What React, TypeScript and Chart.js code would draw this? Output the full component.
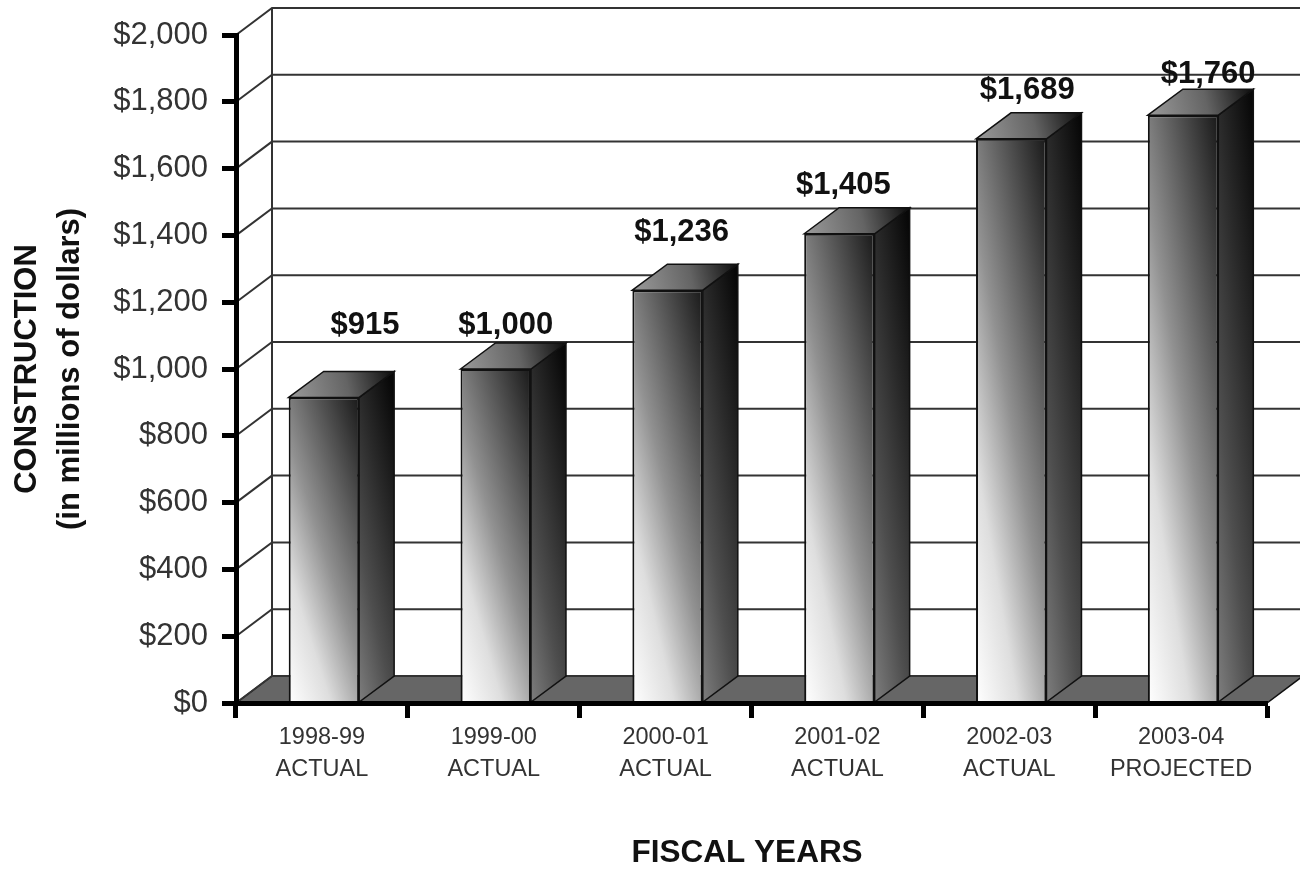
import React, { useEffect, useRef } from "react";
import { Chart, registerables } from "chart.js";

Chart.register(...registerables);

const fiscalYears = ["1998-99", "1999-00", "2000-01", "2001-02", "2002-03", "2003-04"];
const yearStatus = ["ACTUAL", "ACTUAL", "ACTUAL", "ACTUAL", "ACTUAL", "PROJECTED"];
const construction = [915, 1000, 1236, 1405, 1689, 1760];

// Oblique projection of the 3-D box: how far the back of the scene shifts on screen.
const WALL_DX = 36;
const WALL_DY = 27;
const BAR_DX = 35;
const BAR_DY = 26;
const BAR_SHIFT = 2;
// Hand placement of the value captions relative to each bar's top-centre.
const captionDx = [41, 10, 14, 4, 16, 25];
const captionDy = [-72, -44, -58, -48, -48, -41];

const FRONT_STOPS = [255, 222, 145, 85, 25];
const SIDE_STOPS = [125, 78, 42, 8];

const money = (v: number) => "$" + v.toLocaleString("en-US");

function grey(l: number) {
  const c = Math.round(l);
  return `rgb(${c},${c},${c})`;
}

// Diagonal shading across a box, running from its foot-left corner to its head-right corner.
// xShare is how much of the ramp is spent going across rather than going up.
function boxGradient(
  ctx: CanvasRenderingContext2D,
  x0: number,
  x1: number,
  top: number,
  base: number,
  xShare: number,
  stops: number[]
) {
  const w = x1 - x0;
  const h = base - top;
  if (![x0, w, h, base].every(Number.isFinite) || w <= 0 || h <= 0) return "#888";
  const gx = xShare / w;
  const gy = -(1 - xShare) / h;
  const len2 = gx * gx + gy * gy;
  const g = ctx.createLinearGradient(x0, base, x0 + gx / len2, base + gy / len2);
  stops.forEach((l, i) => g.addColorStop(i / (stops.length - 1), grey(l)));
  return g;
}

function linearFace(ctx: CanvasRenderingContext2D, pts: number[][], fill: CanvasGradient | string) {
  ctx.beginPath();
  pts.forEach((p, i) => (i ? ctx.lineTo(p[0], p[1]) : ctx.moveTo(p[0], p[1])));
  ctx.closePath();
  ctx.fillStyle = fill;
  ctx.fill();
  ctx.strokeStyle = "#111";
  ctx.lineWidth = 1.5;
  ctx.stroke();
}

const boxScene = {
  id: "boxScene",
  beforeDatasetsDraw(chart: any) {
    const { ctx, scales } = chart;
    const { x: xs, y: ys } = scales;
    const left = xs.left;
    const right = xs.right;
    const base = ys.getPixelForValue(0);
    ctx.save();

    // Floor of the box
    linearFace(
      ctx,
      [
        [left, base],
        [left + WALL_DX, base - WALL_DY],
        [right + WALL_DX, base - WALL_DY],
        [right, base],
      ],
      "#666"
    );

    // Back wall grid and the slanted side-wall lines
    ctx.strokeStyle = "#333";
    ctx.lineWidth = 2;
    ys.ticks.forEach((t: any) => {
      const y = ys.getPixelForValue(t.value);
      ctx.beginPath();
      ctx.moveTo(left, y);
      ctx.lineTo(left + WALL_DX, y - WALL_DY);
      ctx.lineTo(right + WALL_DX, y - WALL_DY);
      ctx.stroke();
    });
    ctx.beginPath();
    ctx.moveTo(left + WALL_DX, ys.top - WALL_DY);
    ctx.lineTo(left + WALL_DX, base - WALL_DY);
    ctx.stroke();

    // Side and top faces of each bar, behind its front face
    const meta = chart.getDatasetMeta(0);
    meta.data.forEach((bar: any) => {
      const x0 = bar.x - bar.width / 2 + BAR_SHIFT;
      const x1 = bar.x + bar.width / 2 + BAR_SHIFT;
      const top = bar.y;
      const foot = base - 1;

      linearFace(
        ctx,
        [
          [x1, top],
          [x1 + BAR_DX, top - BAR_DY],
          [x1 + BAR_DX, foot - BAR_DY],
          [x1, foot],
        ],
        boxGradient(ctx, x1, x1 + BAR_DX, top, foot, 0.35, SIDE_STOPS)
      );

      const cap = ctx.createLinearGradient(x0, top, x1 + BAR_DX, top - BAR_DY);
      cap.addColorStop(0, grey(155));
      cap.addColorStop(0.55, grey(100));
      cap.addColorStop(1, grey(12));
      linearFace(
        ctx,
        [
          [x0, top],
          [x0 + BAR_DX, top - BAR_DY],
          [x1 + BAR_DX, top - BAR_DY],
          [x1, top],
        ],
        cap
      );
    });

    // The front faces are nudged with the side faces; undone in afterDatasetsDraw
    ctx.restore();
    ctx.save();
    ctx.translate(BAR_SHIFT, 0);
  },
  afterDatasetsDraw(chart: any) {
    const { ctx } = chart;
    ctx.restore();
    ctx.save();
    ctx.font = "bold 31px 'Liberation Sans', Arial, sans-serif";
    ctx.fillStyle = "#111";
    ctx.textAlign = "center";
    ctx.textBaseline = "middle";
    chart.getDatasetMeta(0).data.forEach((bar: any, i: number) => {
      ctx.fillText(money(construction[i]), bar.x + BAR_SHIFT + captionDx[i], bar.y + captionDy[i]);
    });
    ctx.restore();
  },
};

export default function App() {
  const ref = useRef<HTMLCanvasElement>(null);

  useEffect(() => {
    const chart = new Chart(ref.current as HTMLCanvasElement, {
      type: "bar",
      data: {
        labels: fiscalYears.map((y, i) => [y, yearStatus[i]]),
        datasets: [
          {
            label: "Construction",
            data: construction,
            barPercentage: 0.41,
            categoryPercentage: 1,
            borderColor: "#111",
            borderWidth: 2,
            backgroundColor: (c: any) => {
              const { scales, ctx } = c.chart;
              if (!scales.x || c.parsed == null) return "#888";
              const step = scales.x.width / fiscalYears.length;
              const mid = scales.x.getPixelForValue(c.dataIndex);
              const half = (step * 0.41) / 2;
              return boxGradient(
                ctx,
                mid - half,
                mid + half,
                scales.y.getPixelForValue(c.parsed.y),
                scales.y.getPixelForValue(0),
                0.42,
                FRONT_STOPS
              );
            },
          },
        ],
      },
      options: {
        responsive: false,
        animation: false,
        layout: { padding: { top: 35, right: 33, left: 0, bottom: 0 } },
        plugins: { legend: { display: false }, tooltip: { enabled: false } },
        scales: {
          x: {
            afterFit: (s: any) => {
              s.height = 166;
            },
            grid: { drawOnChartArea: false, tickLength: 15, tickWidth: 5, tickColor: "#000" },
            border: { width: 5, color: "#000", z: 1 },
            ticks: {
              color: "#333",
              padding: 4,
              maxRotation: 0,
              autoSkip: false,
              font: { family: "'Liberation Sans', Arial, sans-serif", size: 23.5, lineHeight: 1.36 },
            },
            title: {
              display: true,
              // The trailing space sets the caption slightly left of the axis centre.
              text: "FISCAL YEARS ",
              color: "#111",
              padding: 0,
              font: { family: "'Liberation Sans', Arial, sans-serif", size: 31.5, weight: "bold", lineHeight: 1 },
            },
          },
          y: {
            min: 0,
            max: 2000,
            afterFit: (s: any) => {
              s.width = 236;
            },
            grid: { drawOnChartArea: false, tickLength: 14, tickWidth: 5, tickColor: "#000" },
            border: { width: 5, color: "#000", z: 1 },
            ticks: {
              stepSize: 200,
              color: "#333",
              padding: 14,
              callback: (v: any) => money(Number(v)),
              font: { family: "'Liberation Sans', Arial, sans-serif", size: 31 },
            },
            title: {
              display: true,
              text: ["CONSTRUCTION", "(in millions of dollars)"],
              color: "#111",
              padding: { top: 6, bottom: 0 },
              font: { family: "'Liberation Sans', Arial, sans-serif", size: 31, weight: "bold", lineHeight: 1.39 },
            },
          },
        },
      },
      plugins: [boxScene],
    } as any);
    return () => chart.destroy();
  }, []);

  return (
    <div style={{ position: "absolute", left: 0, top: 0, width: 1300, height: 869, background: "#fff" }}>
      <canvas ref={ref} width={1300} height={869} style={{ display: "block" }} />
    </div>
  );
}
